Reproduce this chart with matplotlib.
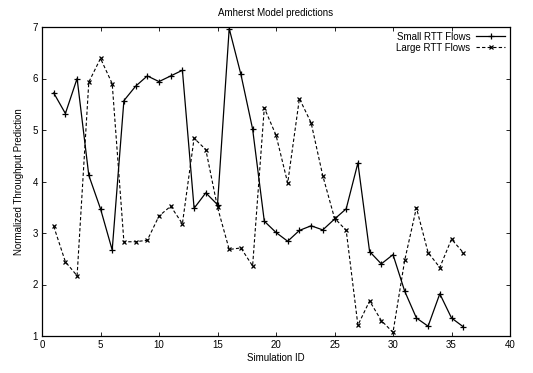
import matplotlib
matplotlib.use('Agg')
import matplotlib.pyplot as plt

sim_id = list(range(1, 37))
small_rtt = [5.72, 5.32, 6.00, 4.12, 3.47, 2.67, 5.57, 5.85, 6.05, 5.94, 6.05, 6.16,
             3.48, 3.78, 3.55, 6.97, 6.08, 5.02, 3.23, 3.01, 2.84, 3.05, 3.14, 3.06,
             3.27, 3.47, 4.36, 2.64, 2.40, 2.58, 1.87, 1.35, 1.19, 1.82, 1.35, 1.18]
large_rtt = [3.13, 2.44, 2.17, 5.93, 6.39, 5.90, 2.83, 2.83, 2.86, 3.33, 3.52, 3.18,
             4.84, 4.62, 3.50, 2.68, 2.71, 2.36, 5.43, 4.90, 3.97, 5.61, 5.14, 4.11,
             3.29, 3.05, 1.21, 1.68, 1.30, 1.07, 2.47, 3.49, 2.62, 2.33, 2.88, 2.62]

plt.rcParams['font.family'] = 'Liberation Sans'
plt.rcParams['font.size'] = 7
plt.rcParams['xtick.direction'] = 'in'
plt.rcParams['ytick.direction'] = 'in'
plt.rcParams['xtick.top'] = True
plt.rcParams['ytick.right'] = True

fig = plt.figure(figsize=(5.33, 3.73), dpi=100)
ax = fig.add_axes([42/533, 37/373, 468/533, 309/373])

ax.plot(sim_id, small_rtt, color='black', linestyle='-', linewidth=0.9,
        marker='+', markersize=4, markeredgewidth=0.9, label='Small RTT Flows')
ax.plot(sim_id, large_rtt, color='black', linestyle=(0, (3, 2)), linewidth=0.8,
        marker='x', markersize=3.3, markeredgewidth=0.9, label='Large RTT Flows')

ax.set_xlim(0, 40)
ax.set_ylim(1, 7)
ax.set_xticks(range(0, 41, 5))
ax.set_yticks(range(1, 8))
ax.tick_params(length=3, width=0.6, pad=3)
for s in ax.spines.values():
    s.set_linewidth(0.9)

ax.set_xlabel('Simulation ID', labelpad=2)
ax.set_ylabel('Normalized Throughput Prediction', labelpad=6)
ax.set_title('Amherst Model predictions', fontsize=7, pad=8)

ax.legend(loc='upper right', bbox_to_anchor=(1.0, 1.0), frameon=False,
          markerfirst=False, handlelength=3.0, borderaxespad=0.1,
          labelspacing=0.1, handletextpad=0.6)

fig.savefig('out.png', dpi=100)
